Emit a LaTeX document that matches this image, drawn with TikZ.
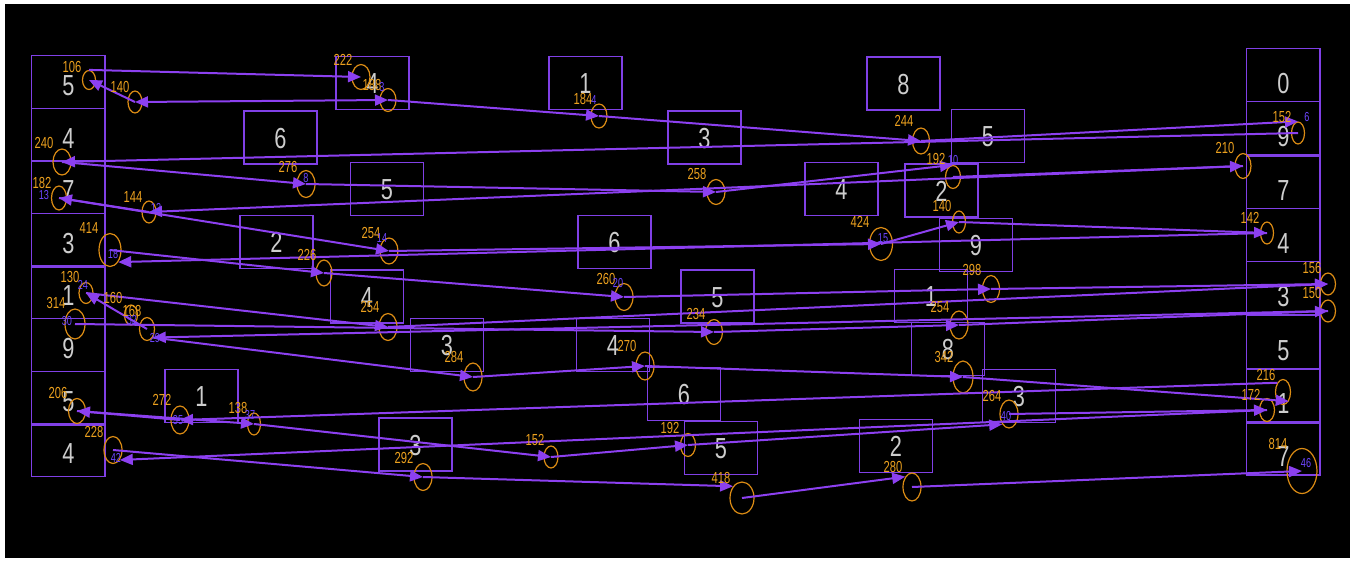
\documentclass[tikz,border=0pt]{standalone}
\usepackage{fontspec}
\setmainfont{Liberation Sans}
\newfontfamily\cellfont[FakeStretch=0.75]{Liberation Sans}
\newfontfamily\tagfont[FakeStretch=0.7]{Liberation Sans}
\usetikzlibrary{shapes.geometric,arrows.meta}

\definecolor{edgec}{RGB}{140,64,240}
\definecolor{boxc}{RGB}{128,64,230}
\definecolor{ringc}{RGB}{220,140,20}
\definecolor{tagc}{RGB}{235,160,30}
\definecolor{idc}{RGB}{110,70,255}
\definecolor{digitc}{RGB}{205,205,205}

\tikzset{
  cell/.style={draw=boxc, line width=0.75pt, minimum width=36.5pt, minimum height=26.5pt,
    inner sep=0pt, text=digitc, font=\cellfont\fontsize{14.5}{14.5}\selectfont,
    text height=10.5pt, text depth=0pt},
  lcell/.style={cell, minimum width=36.75pt, minimum height=26.3pt, text height=13.5pt},
  rcell/.style={cell, minimum width=36.65pt, minimum height=26.65pt, text height=18.5pt},
  seam/.style={draw=boxc, line width=1.3pt},
  ring/.style={draw=ringc, ellipse, line width=0.6pt, inner sep=0pt},
  route/.style={draw=edgec, line width=1pt},
  tip/.style={route, -{Triangle[length=6.5pt,width=5.5pt]}},
  tips/.style={route, {Triangle[length=6.5pt,width=5.5pt]}-{Triangle[length=6.5pt,width=5.5pt]}},
  tag/.style={text=tagc, font=\tagfont\fontsize{8}{8}\selectfont, inner sep=0pt},
  pid/.style={text=idc, font=\tagfont\fontsize{6.5}{6.5}\selectfont, inner sep=0pt}
}
\newcommand\visit[5]{\node[ring, minimum width=#4*0.5pt, minimum height=#5*0.5pt] (#1) at (#2,#3) {};}
\newcommand\tagat[4]{\node[tag] (#1) at (#2,#3) {#4};}
\newcommand\idat[4]{\node[pid] (#1) at (#2,#3) {#4};}

\begin{document}
\begin{tikzpicture}[x=0.5pt,y=-0.5pt]
\useasboundingbox (0,0) rectangle (1355,562);
\fill[white] (0,0) rectangle (1355,562);
\fill[black] (5,4) rectangle (1350,558);

% left column of cells
\node[lcell] (l1) at (68.3,82.0) {5};
\node[lcell] (l2) at (68.3,134.6) {4};
\node[lcell] (l3) at (68.3,187.2) {7};
\node[lcell] (l4) at (68.3,239.8) {3};
\node[lcell] (l5) at (68.3,292.4) {1};
\node[lcell] (l6) at (68.3,345.0) {9};
\node[lcell] (l7) at (68.3,397.6) {5};
\node[lcell] (l8) at (68.3,450.2) {4};
\draw[seam] (l4.south west) -- (l4.south east);
\draw[seam] (l7.south west) -- (l7.south east);

% right column of cells
\node[rcell] (r1) at (1283.3,75.0) {0};
\node[rcell] (r2) at (1283.3,128.3) {9};
\node[rcell] (r3) at (1283.3,181.6) {7};
\node[rcell] (r4) at (1283.3,234.9) {4};
\node[rcell] (r5) at (1283.3,288.3) {3};
\node[rcell] (r6) at (1283.3,341.6) {5};
\node[rcell] (r7) at (1283.3,394.9) {1};
\node[rcell] (r8) at (1283.3,448.3) {7};
\draw[seam] (r2.south west) -- (r2.south east);
\draw[seam] (r6.south west) -- (r6.south east);
\draw[seam] (r7.south west) -- (r7.south east);

% free cells
\node[cell] (m1) at (372.5,83) {4};
\node[cell] (m2) at (585.5,83) {1};
\node[cell] (m3) at (903.5,83.5) {8};
\node[cell] (m4) at (280.5,137.5) {6};
\node[cell] (m5) at (704.5,137.5) {3};
\node[cell] (m6) at (988,136) {5};
\node[cell] (m7) at (387,189) {5};
\node[cell] (m8) at (841.5,189) {4};
\node[cell] (m9) at (941.5,190.5) {2};
\node[cell] (m10) at (276.5,242) {2};
\node[cell] (m11) at (614.5,242) {6};
\node[cell] (m12) at (976,245) {9};
\node[cell] (m13) at (367,296.5) {4};
\node[cell] (m14) at (717.5,296.5) {5};
\node[cell] (m15) at (931,296) {1};
\node[cell] (m16) at (447,345) {3};
\node[cell] (m17) at (613,345) {4};
\node[cell] (m18) at (948,349) {8};
\node[cell] (m19) at (201.5,396) {1};
\node[cell] (m20) at (684,394) {6};
\node[cell] (m21) at (1019,396) {3};
\node[cell] (m22) at (415.5,444.5) {3};
\node[cell] (m23) at (721,448) {5};
\node[cell] (m24) at (896,446) {2};

% visited points
\visit{c106}{89}{80}{13}{19}
\visit{c140a}{135}{102}{14}{22}
\visit{c222}{361}{77}{18}{25}
\visit{c188}{388}{100}{16}{23}
\visit{c184}{599}{116}{16}{24}
\visit{c244}{921}{141}{17}{26}
\visit{c152a}{1298}{133}{13}{22}
\visit{c240}{62}{162}{18}{26}
\visit{c276}{306}{184}{18}{27}
\visit{c192a}{953}{177}{15}{23}
\visit{c210}{1243}{166}{16}{25}
\visit{c258}{716}{192}{18}{25}
\visit{c182}{59}{198}{15}{24}
\visit{c144}{149}{212}{14}{22}
\visit{c414}{110}{250}{22}{33}
\visit{c254a}{389}{251}{18}{26}
\visit{c424}{881}{244}{23}{33}
\visit{c140b}{959}{222}{13}{22}
\visit{c142}{1267}{233}{13}{22}
\visit{c226}{324}{273}{16}{26}
\visit{c260}{624}{297}{18}{27}
\visit{c298}{991}{289}{17}{27}
\visit{c156}{1328}{284}{15}{22}
\visit{c150}{1328}{311}{15}{22}
\visit{c130}{86}{293}{14}{21}
\visit{c160}{131}{315}{13}{20}
\visit{c168}{147}{329}{15}{23}
\visit{c314}{75}{324}{20}{30}
\visit{c254b}{388}{327}{18}{27}
\visit{c234}{714}{332}{17}{25}
\visit{c254c}{959}{325}{18}{28}
\visit{c284}{473}{377}{18}{28}
\visit{c270}{645}{366}{18}{28}
\visit{c342}{963}{377}{20}{32}
\visit{c206}{77}{411}{17}{25}
\visit{c272}{180}{420}{18}{28}
\visit{c138}{254}{424}{13}{22}
\visit{c264}{1009}{414}{18}{28}
\visit{c216}{1283}{392}{15}{25}
\visit{c172}{1267}{410}{15}{23}
\visit{c228}{113}{450}{18}{27}
\visit{c152b}{551}{457}{14}{22}
\visit{c192b}{688}{445}{15}{23}
\visit{c292}{423}{477}{18}{27}
\visit{c418}{742}{498}{24}{32}
\visit{c280}{912}{487}{18}{28}
\visit{c814}{1302}{471}{30}{45}

% route legs
\draw[tip] (c140a.center) -- (c106.center);
\draw[tip] (c106.north) -- (c222.center);
\draw[tips] (c140a.center) -- (c188.center);
\draw[tip] (c188.center) -- (c184.center);
\draw[tip] (c184.center) -- (c244.center);
\draw[tip] (c244.center) -- (c152a.north);
\draw[tip] (c152a.center) -- (c240.center);
\draw[tip] (c240.center) -- (c276.center);
\draw[tip] (c276.center) -- (c258.center);
\draw[tip] (c258.center) -- (c192a.north);
\draw[tip] (c192a.center) -- (c210.center);
\draw[tip] (c210.center) -- (c144.center);
\draw[tip] (c144.center) -- (c182.center);
\draw[tip] (c182.center) -- (c254a.center);
\draw[tip] (c254a.center) -- (c424.center);
\draw[tip] (c424.center) -- (c140b.center);
\draw[tip] (c140b.center) -- (c142.center);
\draw[tip] (c142.center) -- (c414.south east);
\draw[tip] (c414.center) -- (c226.center);
\draw[tip] (c226.center) -- (c260.center);
\draw[tip] (c260.center) -- (c298.center);
\draw[tip] (c298.center) -- (c156.center);
\draw[tip] (c254b.center) -- (c156.center);
\draw[tip] (c130.center) -- (c254b.center);
\draw[tip] (c168.center) -- (c130.center);
\draw[tip] (c150.center) -- (c168.south east);
\draw[tip] (c168.south east) -- (c284.center);
\draw[tip] (c314.center) -- (c234.center);
\draw[tip] (c234.center) -- (c254c.center);
\draw[tip] (c254c.center) -- (c150.center);
\draw[tip] (c284.center) -- (c270.center);
\draw[tip] (c270.center) -- (c342.center);
\draw[tip] (c342.center) -- (c216.south east);
\draw[tip] (c216.north west) -- (c272.center);
\draw[tip] (c272.center) -- (c206.center);
\draw[tip] (c206.center) -- (c138.center);
\draw[tip] (c138.center) -- (c152b.center);
\draw[tip] (c152b.center) -- (c192b.center);
\draw[tip] (c192b.center) -- (c264.south west);
\draw[tip] (c264.center) -- (c172.center);
\draw[tip] (c172.center) -- (c228.south east);
\draw[tip] (c228.center) -- (c292.center);
\draw[tip] (c292.center) -- (c418.north west);
\draw[tip] (c418.center) -- (c280.north west);
\draw[tip] (c280.center) -- (c814.center);

% orange figures
\tagat{t106}{72}{67}{106}
\tagat{t140a}{120}{87}{140}
\tagat{t222}{343}{60}{222}
\tagat{t188}{372}{85}{188}
\tagat{t184}{583}{99}{184}
\tagat{t244}{904}{121}{244}
\tagat{t152a}{1282}{117}{152}
\tagat{t240}{44}{143}{240}
\tagat{t276}{288}{167}{276}
\tagat{t192a}{936}{159}{192}
\tagat{t210}{1225}{148}{210}
\tagat{t258}{697}{174}{258}
\tagat{t182}{42}{183}{182}
\tagat{t144}{133}{197}{144}
\tagat{t414}{89}{228}{414}
\tagat{t254a}{371}{233}{254}
\tagat{t424}{860}{222}{424}
\tagat{t140b}{942}{206}{140}
\tagat{t142}{1250}{218}{142}
\tagat{t226}{307}{255}{226}
\tagat{t260}{606}{279}{260}
\tagat{t298}{972}{270}{298}
\tagat{t156}{1312}{268}{156}
\tagat{t150}{1312}{293}{150}
\tagat{t130}{70}{277}{130}
\tagat{t160}{113}{298}{160}
\tagat{t168}{132}{311}{168}
\tagat{t314}{56}{303}{314}
\tagat{t254b}{370}{307}{254}
\tagat{t234}{696}{314}{234}
\tagat{t254c}{940}{307}{254}
\tagat{t284}{454}{357}{284}
\tagat{t270}{627}{346}{270}
\tagat{t342}{944}{357}{342}
\tagat{t206}{58}{393}{206}
\tagat{t272}{162}{400}{272}
\tagat{t138}{238}{408}{138}
\tagat{t264}{992}{396}{264}
\tagat{t216}{1266}{375}{216}
\tagat{t172}{1251}{395}{172}
\tagat{t228}{94}{432}{228}
\tagat{t152b}{535}{440}{152}
\tagat{t192b}{670}{428}{192}
\tagat{t292}{404}{458}{292}
\tagat{t418}{721}{478}{418}
\tagat{t280}{893}{467}{280}
\tagat{t814}{1278}{444}{814}

% point numbers
\idat{p13}{44}{195}{13}
\idat{p12}{156}{208}{12}
\idat{p18}{113}{254}{18}
\idat{p24}{83}{285}{24}
\idat{p30}{67}{321}{30}
\idat{p32}{132}{320}{32}
\idat{p29}{155}{338}{29}
\idat{p6}{1307}{117}{6}
\idat{p10}{953}{160}{10}
\idat{p15}{883}{238}{15}
\idat{p20}{618}{283}{20}
\idat{p14}{382}{238}{14}
\idat{p8}{306}{178}{8}
\idat{p4}{594}{100}{4}
\idat{p3}{382}{87}{3}
\idat{p40}{1006}{416}{40}
\idat{p46}{1306}{463}{46}
\idat{p42}{116}{458}{42}
\idat{p35}{178}{420}{35}
\idat{p37}{250}{415}{37}
\end{tikzpicture}
\end{document}
